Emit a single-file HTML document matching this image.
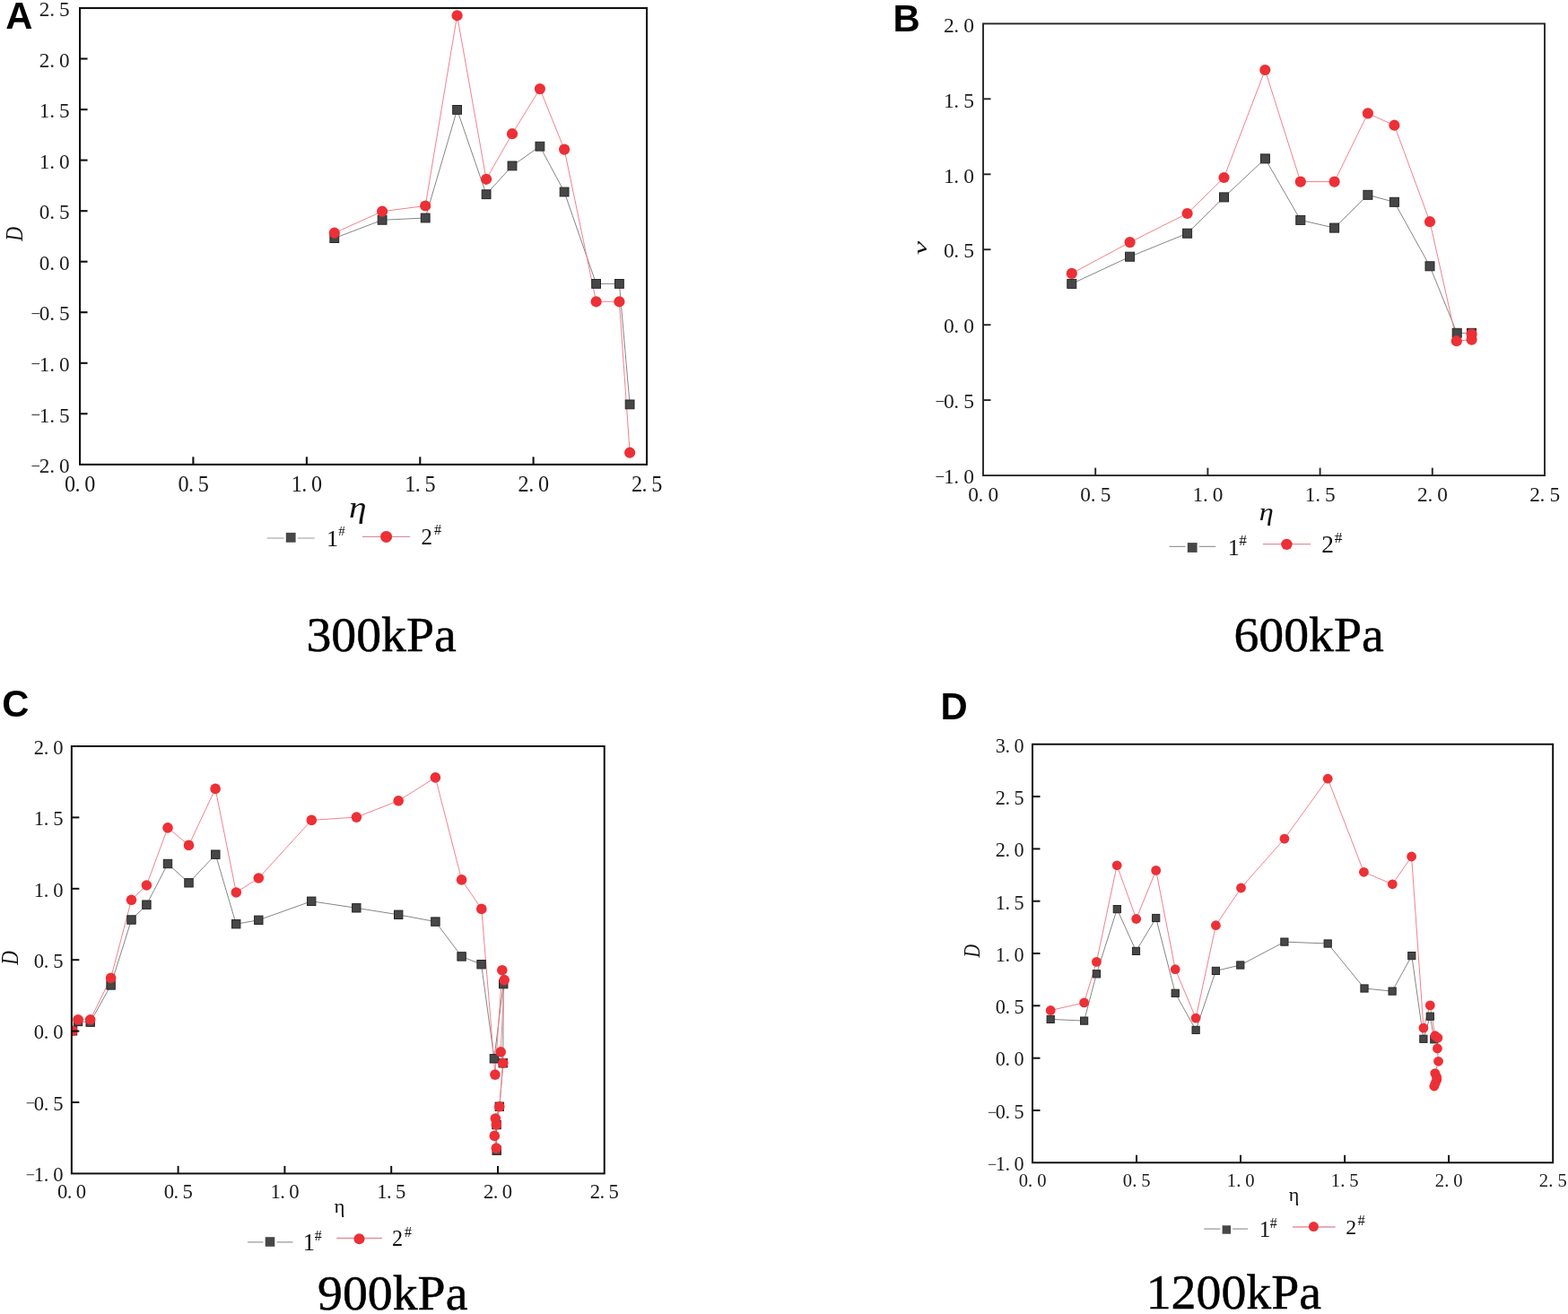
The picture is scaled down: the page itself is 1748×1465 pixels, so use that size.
<!DOCTYPE html><html><head><meta charset="utf-8"><title>D vs eta at 300, 600, 900, 1200 kPa</title>
<style>html,body{margin:0;padding:0;background:#fff;overflow:hidden;}svg{display:block;}</style></head><body>
<svg width="1748" height="1465" viewBox="0 0 1748 1465">
<rect width="1748" height="1465" fill="#fff"/>
<clipPath id="c89"><rect x="89.05" y="9.0" width="632.00" height="508.85"/></clipPath>
<g clip-path="url(#c89)">
<polyline points="372.8,265.6 426.1,245.3 474.2,243.0 509.6,122.4 542.1,216.7 571.0,184.9 601.9,163.2 629.1,214.0 664.6,316.4 690.4,316.4 702.1,450.9" fill="none" stroke="#858585" stroke-width="1.0" stroke-linejoin="round"/>
<polyline points="372.8,259.7 426.1,235.7 474.2,229.5 509.6,17.3 542.1,199.8 571.0,149.2 601.9,99.1 629.1,166.6 664.6,336.3 690.4,336.3 702.1,504.7" fill="none" stroke="#f3808c" stroke-width="1.0" stroke-linejoin="round"/>
<rect x="367.9" y="260.7" width="9.8" height="9.8" fill="#474747" stroke="#262626" stroke-width="1"/>
<rect x="421.2" y="240.4" width="9.8" height="9.8" fill="#474747" stroke="#262626" stroke-width="1"/>
<rect x="469.3" y="238.1" width="9.8" height="9.8" fill="#474747" stroke="#262626" stroke-width="1"/>
<rect x="504.7" y="117.5" width="9.8" height="9.8" fill="#474747" stroke="#262626" stroke-width="1"/>
<rect x="537.2" y="211.8" width="9.8" height="9.8" fill="#474747" stroke="#262626" stroke-width="1"/>
<rect x="566.1" y="180.0" width="9.8" height="9.8" fill="#474747" stroke="#262626" stroke-width="1"/>
<rect x="597.0" y="158.3" width="9.8" height="9.8" fill="#474747" stroke="#262626" stroke-width="1"/>
<rect x="624.2" y="209.1" width="9.8" height="9.8" fill="#474747" stroke="#262626" stroke-width="1"/>
<rect x="659.7" y="311.5" width="9.8" height="9.8" fill="#474747" stroke="#262626" stroke-width="1"/>
<rect x="685.5" y="311.5" width="9.8" height="9.8" fill="#474747" stroke="#262626" stroke-width="1"/>
<rect x="697.2" y="446.0" width="9.8" height="9.8" fill="#474747" stroke="#262626" stroke-width="1"/>
<circle cx="372.8" cy="259.7" r="6.1" fill="#ec3036"/>
<circle cx="426.1" cy="235.7" r="6.1" fill="#ec3036"/>
<circle cx="474.2" cy="229.5" r="6.1" fill="#ec3036"/>
<circle cx="509.6" cy="17.3" r="6.1" fill="#ec3036"/>
<circle cx="542.1" cy="199.8" r="6.1" fill="#ec3036"/>
<circle cx="571.0" cy="149.2" r="6.1" fill="#ec3036"/>
<circle cx="601.9" cy="99.1" r="6.1" fill="#ec3036"/>
<circle cx="629.1" cy="166.6" r="6.1" fill="#ec3036"/>
<circle cx="664.6" cy="336.3" r="6.1" fill="#ec3036"/>
<circle cx="690.4" cy="336.3" r="6.1" fill="#ec3036"/>
<circle cx="702.1" cy="504.7" r="6.1" fill="#ec3036"/>
</g>
<rect x="89.05" y="9.0" width="632.0" height="508.9" fill="none" stroke="#111" stroke-width="2.1"/>
<line x1="89.05" y1="461.3" x2="97.55" y2="461.3" stroke="#111" stroke-width="2.1"/>
<line x1="89.05" y1="404.8" x2="97.55" y2="404.8" stroke="#111" stroke-width="2.1"/>
<line x1="89.05" y1="348.2" x2="97.55" y2="348.2" stroke="#111" stroke-width="2.1"/>
<line x1="89.05" y1="291.7" x2="97.55" y2="291.7" stroke="#111" stroke-width="2.1"/>
<line x1="89.05" y1="235.2" x2="97.55" y2="235.2" stroke="#111" stroke-width="2.1"/>
<line x1="89.05" y1="178.6" x2="97.55" y2="178.6" stroke="#111" stroke-width="2.1"/>
<line x1="89.05" y1="122.1" x2="97.55" y2="122.1" stroke="#111" stroke-width="2.1"/>
<line x1="89.05" y1="65.5" x2="97.55" y2="65.5" stroke="#111" stroke-width="2.1"/>
<line x1="215.4" y1="517.85" x2="215.4" y2="509.35" stroke="#111" stroke-width="2.1"/>
<line x1="341.9" y1="517.85" x2="341.9" y2="509.35" stroke="#111" stroke-width="2.1"/>
<line x1="468.3" y1="517.85" x2="468.3" y2="509.35" stroke="#111" stroke-width="2.1"/>
<line x1="594.6" y1="517.85" x2="594.6" y2="509.35" stroke="#111" stroke-width="2.1"/>
<text font-size="23.2" text-anchor="middle" fill="#1a1a1a" font-family="'Liberation Serif', 'Noto Serif CJK SC', serif"><tspan x="39.70" y="525.53" font-size="18.6">−</tspan><tspan x="49.60 58.10 71.90" y="527.06">2.0</tspan></text>
<text font-size="23.2" text-anchor="middle" fill="#1a1a1a" font-family="'Liberation Serif', 'Noto Serif CJK SC', serif"><tspan x="39.70" y="468.99" font-size="18.6">−</tspan><tspan x="49.60 58.10 71.90" y="470.52">1.5</tspan></text>
<text font-size="23.2" text-anchor="middle" fill="#1a1a1a" font-family="'Liberation Serif', 'Noto Serif CJK SC', serif"><tspan x="39.70" y="412.45" font-size="18.6">−</tspan><tspan x="49.60 58.10 71.90" y="413.98">1.0</tspan></text>
<text font-size="23.2" text-anchor="middle" fill="#1a1a1a" font-family="'Liberation Serif', 'Noto Serif CJK SC', serif"><tspan x="39.70" y="355.91" font-size="18.6">−</tspan><tspan x="49.60 58.10 71.90" y="357.44">0.5</tspan></text>
<text font-size="23.2" text-anchor="middle" fill="#1a1a1a" font-family="'Liberation Serif', 'Noto Serif CJK SC', serif"><tspan x="49.60 58.10 71.90" y="300.90">0.0</tspan></text>
<text font-size="23.2" text-anchor="middle" fill="#1a1a1a" font-family="'Liberation Serif', 'Noto Serif CJK SC', serif"><tspan x="49.60 58.10 71.90" y="244.36">0.5</tspan></text>
<text font-size="23.2" text-anchor="middle" fill="#1a1a1a" font-family="'Liberation Serif', 'Noto Serif CJK SC', serif"><tspan x="49.60 58.10 71.90" y="187.82">1.0</tspan></text>
<text font-size="23.2" text-anchor="middle" fill="#1a1a1a" font-family="'Liberation Serif', 'Noto Serif CJK SC', serif"><tspan x="49.60 58.10 71.90" y="131.28">1.5</tspan></text>
<text font-size="23.2" text-anchor="middle" fill="#1a1a1a" font-family="'Liberation Serif', 'Noto Serif CJK SC', serif"><tspan x="49.60 58.10 71.90" y="74.74">2.0</tspan></text>
<text font-size="23.2" text-anchor="middle" fill="#1a1a1a" font-family="'Liberation Serif', 'Noto Serif CJK SC', serif"><tspan x="49.60 58.10 71.90" y="18.20">2.5</tspan></text>
<text font-size="24.2" text-anchor="middle" fill="#1a1a1a" font-family="'Liberation Serif', 'Noto Serif CJK SC', serif"><tspan x="78.05 86.55 100.35" y="547.85">0.0</tspan></text>
<text font-size="24.2" text-anchor="middle" fill="#1a1a1a" font-family="'Liberation Serif', 'Noto Serif CJK SC', serif"><tspan x="204.45 212.95 226.75" y="547.85">0.5</tspan></text>
<text font-size="24.2" text-anchor="middle" fill="#1a1a1a" font-family="'Liberation Serif', 'Noto Serif CJK SC', serif"><tspan x="330.85 339.35 353.15" y="547.85">1.0</tspan></text>
<text font-size="24.2" text-anchor="middle" fill="#1a1a1a" font-family="'Liberation Serif', 'Noto Serif CJK SC', serif"><tspan x="457.25 465.75 479.55" y="547.85">1.5</tspan></text>
<text font-size="24.2" text-anchor="middle" fill="#1a1a1a" font-family="'Liberation Serif', 'Noto Serif CJK SC', serif"><tspan x="583.65 592.15 605.95" y="547.85">2.0</tspan></text>
<text font-size="24.2" text-anchor="middle" fill="#1a1a1a" font-family="'Liberation Serif', 'Noto Serif CJK SC', serif"><tspan x="710.05 718.55 732.35" y="547.85">2.5</tspan></text>
<clipPath id="c1096"><rect x="1096.0" y="26.4" width="626.00" height="503.70"/></clipPath>
<g clip-path="url(#c1096)">
<polyline points="1194.8,316.4 1259.6,286.2 1323.6,260.2 1364.5,219.9 1410.4,176.9 1449.8,245.4 1487.6,254.1 1524.9,217.3 1554.4,225.3 1594.0,296.8 1624.2,371.3 1640.5,371.3" fill="none" stroke="#858585" stroke-width="1.0" stroke-linejoin="round"/>
<polyline points="1194.8,304.9 1259.6,270.1 1323.6,238.0 1364.5,198.0 1410.3,78.0 1449.8,202.6 1487.6,202.6 1524.9,126.4 1554.4,139.7 1594.0,247.2 1623.8,380.2 1640.6,378.7 1640.6,372.5" fill="none" stroke="#f3808c" stroke-width="1.0" stroke-linejoin="round"/>
<rect x="1189.8" y="311.4" width="10.0" height="10.0" fill="#474747" stroke="#262626" stroke-width="1"/>
<rect x="1254.6" y="281.2" width="10.0" height="10.0" fill="#474747" stroke="#262626" stroke-width="1"/>
<rect x="1318.6" y="255.2" width="10.0" height="10.0" fill="#474747" stroke="#262626" stroke-width="1"/>
<rect x="1359.5" y="214.9" width="10.0" height="10.0" fill="#474747" stroke="#262626" stroke-width="1"/>
<rect x="1405.4" y="171.9" width="10.0" height="10.0" fill="#474747" stroke="#262626" stroke-width="1"/>
<rect x="1444.8" y="240.4" width="10.0" height="10.0" fill="#474747" stroke="#262626" stroke-width="1"/>
<rect x="1482.6" y="249.1" width="10.0" height="10.0" fill="#474747" stroke="#262626" stroke-width="1"/>
<rect x="1519.9" y="212.3" width="10.0" height="10.0" fill="#474747" stroke="#262626" stroke-width="1"/>
<rect x="1549.4" y="220.3" width="10.0" height="10.0" fill="#474747" stroke="#262626" stroke-width="1"/>
<rect x="1589.0" y="291.8" width="10.0" height="10.0" fill="#474747" stroke="#262626" stroke-width="1"/>
<rect x="1619.2" y="366.3" width="10.0" height="10.0" fill="#474747" stroke="#262626" stroke-width="1"/>
<rect x="1635.5" y="366.3" width="10.0" height="10.0" fill="#474747" stroke="#262626" stroke-width="1"/>
<circle cx="1194.8" cy="304.9" r="6.1" fill="#ec3036"/>
<circle cx="1259.6" cy="270.1" r="6.1" fill="#ec3036"/>
<circle cx="1323.6" cy="238.0" r="6.1" fill="#ec3036"/>
<circle cx="1364.5" cy="198.0" r="6.1" fill="#ec3036"/>
<circle cx="1410.3" cy="78.0" r="6.1" fill="#ec3036"/>
<circle cx="1449.8" cy="202.6" r="6.1" fill="#ec3036"/>
<circle cx="1487.6" cy="202.6" r="6.1" fill="#ec3036"/>
<circle cx="1524.9" cy="126.4" r="6.1" fill="#ec3036"/>
<circle cx="1554.4" cy="139.7" r="6.1" fill="#ec3036"/>
<circle cx="1594.0" cy="247.2" r="6.1" fill="#ec3036"/>
<circle cx="1623.8" cy="380.2" r="6.1" fill="#ec3036"/>
<circle cx="1640.6" cy="378.7" r="6.1" fill="#ec3036"/>
<circle cx="1640.6" cy="372.5" r="6.1" fill="#ec3036"/>
</g>
<rect x="1096.0" y="26.4" width="626.0" height="503.7" fill="none" stroke="#262626" stroke-width="1.9"/>
<line x1="1096.0" y1="446.1" x2="1104.5" y2="446.1" stroke="#262626" stroke-width="1.9"/>
<line x1="1096.0" y1="362.2" x2="1104.5" y2="362.2" stroke="#262626" stroke-width="1.9"/>
<line x1="1096.0" y1="278.2" x2="1104.5" y2="278.2" stroke="#262626" stroke-width="1.9"/>
<line x1="1096.0" y1="194.3" x2="1104.5" y2="194.3" stroke="#262626" stroke-width="1.9"/>
<line x1="1096.0" y1="110.3" x2="1104.5" y2="110.3" stroke="#262626" stroke-width="1.9"/>
<line x1="1221.2" y1="530.1" x2="1221.2" y2="521.6" stroke="#262626" stroke-width="1.9"/>
<line x1="1346.4" y1="530.1" x2="1346.4" y2="521.6" stroke="#262626" stroke-width="1.9"/>
<line x1="1471.6" y1="530.1" x2="1471.6" y2="521.6" stroke="#262626" stroke-width="1.9"/>
<line x1="1596.8" y1="530.1" x2="1596.8" y2="521.6" stroke="#262626" stroke-width="1.9"/>
<text font-size="23.5" text-anchor="middle" fill="#1a1a1a" font-family="'Liberation Serif', 'Noto Serif CJK SC', serif"><tspan x="1047.90" y="537.85" font-size="18.8">−</tspan><tspan x="1057.80 1066.30 1080.10" y="539.30">1.0</tspan></text>
<text font-size="23.5" text-anchor="middle" fill="#1a1a1a" font-family="'Liberation Serif', 'Noto Serif CJK SC', serif"><tspan x="1047.90" y="453.90" font-size="18.8">−</tspan><tspan x="1057.80 1066.30 1080.10" y="455.35">0.5</tspan></text>
<text font-size="23.5" text-anchor="middle" fill="#1a1a1a" font-family="'Liberation Serif', 'Noto Serif CJK SC', serif"><tspan x="1057.80 1066.30 1080.10" y="371.40">0.0</tspan></text>
<text font-size="23.5" text-anchor="middle" fill="#1a1a1a" font-family="'Liberation Serif', 'Noto Serif CJK SC', serif"><tspan x="1057.80 1066.30 1080.10" y="287.45">0.5</tspan></text>
<text font-size="23.5" text-anchor="middle" fill="#1a1a1a" font-family="'Liberation Serif', 'Noto Serif CJK SC', serif"><tspan x="1057.80 1066.30 1080.10" y="203.50">1.0</tspan></text>
<text font-size="23.5" text-anchor="middle" fill="#1a1a1a" font-family="'Liberation Serif', 'Noto Serif CJK SC', serif"><tspan x="1057.80 1066.30 1080.10" y="119.55">1.5</tspan></text>
<text font-size="23.5" text-anchor="middle" fill="#1a1a1a" font-family="'Liberation Serif', 'Noto Serif CJK SC', serif"><tspan x="1057.80 1066.30 1080.10" y="35.60">2.0</tspan></text>
<text font-size="23.3" text-anchor="middle" fill="#1a1a1a" font-family="'Liberation Serif', 'Noto Serif CJK SC', serif"><tspan x="1085.00 1093.50 1107.30" y="559.40">0.0</tspan></text>
<text font-size="23.3" text-anchor="middle" fill="#1a1a1a" font-family="'Liberation Serif', 'Noto Serif CJK SC', serif"><tspan x="1210.20 1218.70 1232.50" y="559.40">0.5</tspan></text>
<text font-size="23.3" text-anchor="middle" fill="#1a1a1a" font-family="'Liberation Serif', 'Noto Serif CJK SC', serif"><tspan x="1335.40 1343.90 1357.70" y="559.40">1.0</tspan></text>
<text font-size="23.3" text-anchor="middle" fill="#1a1a1a" font-family="'Liberation Serif', 'Noto Serif CJK SC', serif"><tspan x="1460.60 1469.10 1482.90" y="559.40">1.5</tspan></text>
<text font-size="23.3" text-anchor="middle" fill="#1a1a1a" font-family="'Liberation Serif', 'Noto Serif CJK SC', serif"><tspan x="1585.80 1594.30 1608.10" y="559.40">2.0</tspan></text>
<text font-size="23.3" text-anchor="middle" fill="#1a1a1a" font-family="'Liberation Serif', 'Noto Serif CJK SC', serif"><tspan x="1711.00 1719.50 1733.30" y="559.40">2.5</tspan></text>
<clipPath id="c79"><rect x="79.84" y="832.0" width="593.89" height="476.40"/></clipPath>
<g clip-path="url(#c79)">
<polyline points="81.0,1149.3 87.0,1138.9 100.7,1139.6 123.6,1098.4 146.5,1025.5 163.4,1008.7 187.0,963.0 210.5,984.3 240.3,952.7 263.2,1030.2 288.3,1025.8 347.2,1004.8 397.3,1012.3 444.2,1019.8 485.4,1027.6 514.6,1066.4 536.6,1075.2 550.9,1180.3 561.2,1097.1 560.8,1185.2 556.8,1233.8 553.5,1254.0 553.7,1282.7" fill="none" stroke="#858585" stroke-width="1.0" stroke-linejoin="round"/>
<polyline points="81.0,1149.3 87.0,1136.8 100.7,1136.8 123.6,1090.4 146.5,1003.3 163.4,987.0 187.0,922.9 210.5,942.4 240.1,879.4 263.3,995.0 288.3,979.0 347.3,914.4 397.4,911.1 444.2,892.8 485.4,866.9 514.6,980.9 536.8,1013.4 551.9,1198.1 559.8,1081.7 562.2,1092.6 558.2,1172.8 560.8,1185.2 556.8,1233.8 552.3,1247.0 553.3,1254.0 551.3,1266.4 553.3,1280.1" fill="none" stroke="#f3808c" stroke-width="1.0" stroke-linejoin="round"/>
<rect x="76.3" y="1144.6" width="9.4" height="9.4" fill="#474747" stroke="#262626" stroke-width="1"/>
<rect x="82.3" y="1134.2" width="9.4" height="9.4" fill="#474747" stroke="#262626" stroke-width="1"/>
<rect x="96.0" y="1134.9" width="9.4" height="9.4" fill="#474747" stroke="#262626" stroke-width="1"/>
<rect x="118.9" y="1093.7" width="9.4" height="9.4" fill="#474747" stroke="#262626" stroke-width="1"/>
<rect x="141.8" y="1020.8" width="9.4" height="9.4" fill="#474747" stroke="#262626" stroke-width="1"/>
<rect x="158.7" y="1004.0" width="9.4" height="9.4" fill="#474747" stroke="#262626" stroke-width="1"/>
<rect x="182.3" y="958.3" width="9.4" height="9.4" fill="#474747" stroke="#262626" stroke-width="1"/>
<rect x="205.8" y="979.6" width="9.4" height="9.4" fill="#474747" stroke="#262626" stroke-width="1"/>
<rect x="235.6" y="948.0" width="9.4" height="9.4" fill="#474747" stroke="#262626" stroke-width="1"/>
<rect x="258.5" y="1025.5" width="9.4" height="9.4" fill="#474747" stroke="#262626" stroke-width="1"/>
<rect x="283.6" y="1021.1" width="9.4" height="9.4" fill="#474747" stroke="#262626" stroke-width="1"/>
<rect x="342.5" y="1000.1" width="9.4" height="9.4" fill="#474747" stroke="#262626" stroke-width="1"/>
<rect x="392.6" y="1007.6" width="9.4" height="9.4" fill="#474747" stroke="#262626" stroke-width="1"/>
<rect x="439.5" y="1015.1" width="9.4" height="9.4" fill="#474747" stroke="#262626" stroke-width="1"/>
<rect x="480.7" y="1022.9" width="9.4" height="9.4" fill="#474747" stroke="#262626" stroke-width="1"/>
<rect x="509.9" y="1061.7" width="9.4" height="9.4" fill="#474747" stroke="#262626" stroke-width="1"/>
<rect x="531.9" y="1070.5" width="9.4" height="9.4" fill="#474747" stroke="#262626" stroke-width="1"/>
<rect x="546.2" y="1175.6" width="9.4" height="9.4" fill="#474747" stroke="#262626" stroke-width="1"/>
<rect x="556.5" y="1092.4" width="9.4" height="9.4" fill="#474747" stroke="#262626" stroke-width="1"/>
<rect x="556.1" y="1180.5" width="9.4" height="9.4" fill="#474747" stroke="#262626" stroke-width="1"/>
<rect x="552.1" y="1229.1" width="9.4" height="9.4" fill="#474747" stroke="#262626" stroke-width="1"/>
<rect x="548.8" y="1249.3" width="9.4" height="9.4" fill="#474747" stroke="#262626" stroke-width="1"/>
<rect x="549.0" y="1278.0" width="9.4" height="9.4" fill="#474747" stroke="#262626" stroke-width="1"/>
<circle cx="81.0" cy="1149.3" r="5.8" fill="#ec3036"/>
<circle cx="87.0" cy="1136.8" r="5.8" fill="#ec3036"/>
<circle cx="100.7" cy="1136.8" r="5.8" fill="#ec3036"/>
<circle cx="123.6" cy="1090.4" r="5.8" fill="#ec3036"/>
<circle cx="146.5" cy="1003.3" r="5.8" fill="#ec3036"/>
<circle cx="163.4" cy="987.0" r="5.8" fill="#ec3036"/>
<circle cx="187.0" cy="922.9" r="5.8" fill="#ec3036"/>
<circle cx="210.5" cy="942.4" r="5.8" fill="#ec3036"/>
<circle cx="240.1" cy="879.4" r="5.8" fill="#ec3036"/>
<circle cx="263.3" cy="995.0" r="5.8" fill="#ec3036"/>
<circle cx="288.3" cy="979.0" r="5.8" fill="#ec3036"/>
<circle cx="347.3" cy="914.4" r="5.8" fill="#ec3036"/>
<circle cx="397.4" cy="911.1" r="5.8" fill="#ec3036"/>
<circle cx="444.2" cy="892.8" r="5.8" fill="#ec3036"/>
<circle cx="485.4" cy="866.9" r="5.8" fill="#ec3036"/>
<circle cx="514.6" cy="980.9" r="5.8" fill="#ec3036"/>
<circle cx="536.8" cy="1013.4" r="5.8" fill="#ec3036"/>
<circle cx="551.9" cy="1198.1" r="5.8" fill="#ec3036"/>
<circle cx="559.8" cy="1081.7" r="5.8" fill="#ec3036"/>
<circle cx="562.2" cy="1092.6" r="5.8" fill="#ec3036"/>
<circle cx="558.2" cy="1172.8" r="5.8" fill="#ec3036"/>
<circle cx="560.8" cy="1185.2" r="5.8" fill="#ec3036"/>
<circle cx="556.8" cy="1233.8" r="5.8" fill="#ec3036"/>
<circle cx="552.3" cy="1247.0" r="5.8" fill="#ec3036"/>
<circle cx="553.3" cy="1254.0" r="5.8" fill="#ec3036"/>
<circle cx="551.3" cy="1266.4" r="5.8" fill="#ec3036"/>
<circle cx="553.3" cy="1280.1" r="5.8" fill="#ec3036"/>
</g>
<rect x="79.84" y="832.0" width="593.9" height="476.4" fill="none" stroke="#111" stroke-width="2.0"/>
<line x1="79.84" y1="1229.0" x2="88.34" y2="1229.0" stroke="#111" stroke-width="2.0"/>
<line x1="79.84" y1="1149.6" x2="88.34" y2="1149.6" stroke="#111" stroke-width="2.0"/>
<line x1="79.84" y1="1070.2" x2="88.34" y2="1070.2" stroke="#111" stroke-width="2.0"/>
<line x1="79.84" y1="990.8" x2="88.34" y2="990.8" stroke="#111" stroke-width="2.0"/>
<line x1="79.84" y1="911.4" x2="88.34" y2="911.4" stroke="#111" stroke-width="2.0"/>
<line x1="198.6" y1="1308.4" x2="198.6" y2="1299.9" stroke="#111" stroke-width="2.0"/>
<line x1="317.4" y1="1308.4" x2="317.4" y2="1299.9" stroke="#111" stroke-width="2.0"/>
<line x1="436.2" y1="1308.4" x2="436.2" y2="1299.9" stroke="#111" stroke-width="2.0"/>
<line x1="555.0" y1="1308.4" x2="555.0" y2="1299.9" stroke="#111" stroke-width="2.0"/>
<text font-size="22.6" text-anchor="middle" fill="#1a1a1a" font-family="'Liberation Serif', 'Noto Serif CJK SC', serif"><tspan x="33.86" y="1315.72" font-size="18.1">−</tspan><tspan x="43.37 51.53 64.78" y="1317.10">1.0</tspan></text>
<text font-size="22.6" text-anchor="middle" fill="#1a1a1a" font-family="'Liberation Serif', 'Noto Serif CJK SC', serif"><tspan x="33.86" y="1236.32" font-size="18.1">−</tspan><tspan x="43.37 51.53 64.78" y="1237.70">0.5</tspan></text>
<text font-size="22.6" text-anchor="middle" fill="#1a1a1a" font-family="'Liberation Serif', 'Noto Serif CJK SC', serif"><tspan x="43.37 51.53 64.78" y="1158.30">0.0</tspan></text>
<text font-size="22.6" text-anchor="middle" fill="#1a1a1a" font-family="'Liberation Serif', 'Noto Serif CJK SC', serif"><tspan x="43.37 51.53 64.78" y="1078.90">0.5</tspan></text>
<text font-size="22.6" text-anchor="middle" fill="#1a1a1a" font-family="'Liberation Serif', 'Noto Serif CJK SC', serif"><tspan x="43.37 51.53 64.78" y="999.50">1.0</tspan></text>
<text font-size="22.6" text-anchor="middle" fill="#1a1a1a" font-family="'Liberation Serif', 'Noto Serif CJK SC', serif"><tspan x="43.37 51.53 64.78" y="920.10">1.5</tspan></text>
<text font-size="22.6" text-anchor="middle" fill="#1a1a1a" font-family="'Liberation Serif', 'Noto Serif CJK SC', serif"><tspan x="43.37 51.53 64.78" y="840.70">2.0</tspan></text>
<text font-size="22.7" text-anchor="middle" fill="#1a1a1a" font-family="'Liberation Serif', 'Noto Serif CJK SC', serif"><tspan x="69.61 77.52 90.35" y="1336.20">0.0</tspan></text>
<text font-size="22.7" text-anchor="middle" fill="#1a1a1a" font-family="'Liberation Serif', 'Noto Serif CJK SC', serif"><tspan x="188.39 196.30 209.13" y="1336.20">0.5</tspan></text>
<text font-size="22.7" text-anchor="middle" fill="#1a1a1a" font-family="'Liberation Serif', 'Noto Serif CJK SC', serif"><tspan x="307.17 315.07 327.91" y="1336.20">1.0</tspan></text>
<text font-size="22.7" text-anchor="middle" fill="#1a1a1a" font-family="'Liberation Serif', 'Noto Serif CJK SC', serif"><tspan x="425.95 433.86 446.69" y="1336.20">1.5</tspan></text>
<text font-size="22.7" text-anchor="middle" fill="#1a1a1a" font-family="'Liberation Serif', 'Noto Serif CJK SC', serif"><tspan x="544.73 552.63 565.47" y="1336.20">2.0</tspan></text>
<text font-size="22.7" text-anchor="middle" fill="#1a1a1a" font-family="'Liberation Serif', 'Noto Serif CJK SC', serif"><tspan x="663.51 671.41 684.25" y="1336.20">2.5</tspan></text>
<clipPath id="c1150"><rect x="1150.98" y="829.76" width="580.15" height="466.54"/></clipPath>
<g clip-path="url(#c1150)">
<polyline points="1171.2,1136.4 1208.6,1138.1 1222.4,1085.8 1245.3,1013.6 1266.5,1060.4 1288.7,1023.5 1310.2,1107.3 1333.1,1148.4 1355.4,1082.4 1382.8,1076.0 1431.9,1050.1 1480.2,1052.0 1521.0,1102.0 1552.1,1105.1 1573.8,1065.6 1586.9,1158.3 1594.3,1133.2 1598.8,1158.8" fill="none" stroke="#858585" stroke-width="1.0" stroke-linejoin="round"/>
<polyline points="1171.2,1126.5 1208.6,1117.9 1222.4,1072.4 1245.2,964.8 1266.7,1024.5 1288.7,970.4 1310.2,1080.7 1333.1,1135.1 1355.4,1031.7 1383.5,990.0 1431.9,935.1 1480.2,868.2 1520.4,972.3 1552.3,985.8 1573.6,955.0 1586.9,1146.1 1594.3,1120.9 1599.8,1154.7 1602.9,1157.1 1602.4,1169.0 1603.5,1183.3 1599.8,1196.6 1601.5,1200.5 1601.8,1203.8 1600.2,1207.5 1598.8,1211.0" fill="none" stroke="#f3808c" stroke-width="1.0" stroke-linejoin="round"/>
<rect x="1167.1" y="1132.3" width="8.2" height="8.2" fill="#474747" stroke="#262626" stroke-width="1"/>
<rect x="1204.5" y="1134.0" width="8.2" height="8.2" fill="#474747" stroke="#262626" stroke-width="1"/>
<rect x="1218.3" y="1081.7" width="8.2" height="8.2" fill="#474747" stroke="#262626" stroke-width="1"/>
<rect x="1241.2" y="1009.5" width="8.2" height="8.2" fill="#474747" stroke="#262626" stroke-width="1"/>
<rect x="1262.4" y="1056.3" width="8.2" height="8.2" fill="#474747" stroke="#262626" stroke-width="1"/>
<rect x="1284.6" y="1019.4" width="8.2" height="8.2" fill="#474747" stroke="#262626" stroke-width="1"/>
<rect x="1306.1" y="1103.2" width="8.2" height="8.2" fill="#474747" stroke="#262626" stroke-width="1"/>
<rect x="1329.0" y="1144.3" width="8.2" height="8.2" fill="#474747" stroke="#262626" stroke-width="1"/>
<rect x="1351.3" y="1078.3" width="8.2" height="8.2" fill="#474747" stroke="#262626" stroke-width="1"/>
<rect x="1378.7" y="1071.9" width="8.2" height="8.2" fill="#474747" stroke="#262626" stroke-width="1"/>
<rect x="1427.8" y="1046.0" width="8.2" height="8.2" fill="#474747" stroke="#262626" stroke-width="1"/>
<rect x="1476.1" y="1047.9" width="8.2" height="8.2" fill="#474747" stroke="#262626" stroke-width="1"/>
<rect x="1516.9" y="1097.9" width="8.2" height="8.2" fill="#474747" stroke="#262626" stroke-width="1"/>
<rect x="1548.0" y="1101.0" width="8.2" height="8.2" fill="#474747" stroke="#262626" stroke-width="1"/>
<rect x="1569.7" y="1061.5" width="8.2" height="8.2" fill="#474747" stroke="#262626" stroke-width="1"/>
<rect x="1582.8" y="1154.2" width="8.2" height="8.2" fill="#474747" stroke="#262626" stroke-width="1"/>
<rect x="1590.2" y="1129.1" width="8.2" height="8.2" fill="#474747" stroke="#262626" stroke-width="1"/>
<rect x="1594.7" y="1154.7" width="8.2" height="8.2" fill="#474747" stroke="#262626" stroke-width="1"/>
<circle cx="1171.2" cy="1126.5" r="5.4" fill="#ec3036"/>
<circle cx="1208.6" cy="1117.9" r="5.4" fill="#ec3036"/>
<circle cx="1222.4" cy="1072.4" r="5.4" fill="#ec3036"/>
<circle cx="1245.2" cy="964.8" r="5.4" fill="#ec3036"/>
<circle cx="1266.7" cy="1024.5" r="5.4" fill="#ec3036"/>
<circle cx="1288.7" cy="970.4" r="5.4" fill="#ec3036"/>
<circle cx="1310.2" cy="1080.7" r="5.4" fill="#ec3036"/>
<circle cx="1333.1" cy="1135.1" r="5.4" fill="#ec3036"/>
<circle cx="1355.4" cy="1031.7" r="5.4" fill="#ec3036"/>
<circle cx="1383.5" cy="990.0" r="5.4" fill="#ec3036"/>
<circle cx="1431.9" cy="935.1" r="5.4" fill="#ec3036"/>
<circle cx="1480.2" cy="868.2" r="5.4" fill="#ec3036"/>
<circle cx="1520.4" cy="972.3" r="5.4" fill="#ec3036"/>
<circle cx="1552.3" cy="985.8" r="5.4" fill="#ec3036"/>
<circle cx="1573.6" cy="955.0" r="5.4" fill="#ec3036"/>
<circle cx="1586.9" cy="1146.1" r="5.4" fill="#ec3036"/>
<circle cx="1594.3" cy="1120.9" r="5.4" fill="#ec3036"/>
<circle cx="1599.8" cy="1154.7" r="5.4" fill="#ec3036"/>
<circle cx="1602.9" cy="1157.1" r="5.4" fill="#ec3036"/>
<circle cx="1602.4" cy="1169.0" r="5.4" fill="#ec3036"/>
<circle cx="1603.5" cy="1183.3" r="5.4" fill="#ec3036"/>
<circle cx="1599.8" cy="1196.6" r="5.4" fill="#ec3036"/>
<circle cx="1601.5" cy="1200.5" r="5.4" fill="#ec3036"/>
<circle cx="1601.8" cy="1203.8" r="5.4" fill="#ec3036"/>
<circle cx="1600.2" cy="1207.5" r="5.4" fill="#ec3036"/>
<circle cx="1598.8" cy="1211.0" r="5.4" fill="#ec3036"/>
</g>
<rect x="1150.98" y="829.76" width="580.2" height="466.5" fill="none" stroke="#111" stroke-width="2.0"/>
<line x1="1150.98" y1="1238.0" x2="1159.48" y2="1238.0" stroke="#111" stroke-width="2.0"/>
<line x1="1150.98" y1="1179.7" x2="1159.48" y2="1179.7" stroke="#111" stroke-width="2.0"/>
<line x1="1150.98" y1="1121.3" x2="1159.48" y2="1121.3" stroke="#111" stroke-width="2.0"/>
<line x1="1150.98" y1="1063.0" x2="1159.48" y2="1063.0" stroke="#111" stroke-width="2.0"/>
<line x1="1150.98" y1="1004.7" x2="1159.48" y2="1004.7" stroke="#111" stroke-width="2.0"/>
<line x1="1150.98" y1="946.4" x2="1159.48" y2="946.4" stroke="#111" stroke-width="2.0"/>
<line x1="1150.98" y1="888.1" x2="1159.48" y2="888.1" stroke="#111" stroke-width="2.0"/>
<line x1="1267.0" y1="1296.3" x2="1267.0" y2="1287.8" stroke="#111" stroke-width="2.0"/>
<line x1="1383.0" y1="1296.3" x2="1383.0" y2="1287.8" stroke="#111" stroke-width="2.0"/>
<line x1="1499.1" y1="1296.3" x2="1499.1" y2="1287.8" stroke="#111" stroke-width="2.0"/>
<line x1="1615.1" y1="1296.3" x2="1615.1" y2="1287.8" stroke="#111" stroke-width="2.0"/>
<text font-size="22.2" text-anchor="middle" fill="#1a1a1a" font-family="'Liberation Serif', 'Noto Serif CJK SC', serif"><tspan x="1106.06" y="1303.84" font-size="17.8">−</tspan><tspan x="1115.27 1123.17 1136.01" y="1305.10">1.0</tspan></text>
<text font-size="22.2" text-anchor="middle" fill="#1a1a1a" font-family="'Liberation Serif', 'Noto Serif CJK SC', serif"><tspan x="1106.06" y="1245.52" font-size="17.8">−</tspan><tspan x="1115.27 1123.17 1136.01" y="1246.78">0.5</tspan></text>
<text font-size="22.2" text-anchor="middle" fill="#1a1a1a" font-family="'Liberation Serif', 'Noto Serif CJK SC', serif"><tspan x="1115.27 1123.17 1136.01" y="1188.46">0.0</tspan></text>
<text font-size="22.2" text-anchor="middle" fill="#1a1a1a" font-family="'Liberation Serif', 'Noto Serif CJK SC', serif"><tspan x="1115.27 1123.17 1136.01" y="1130.14">0.5</tspan></text>
<text font-size="22.2" text-anchor="middle" fill="#1a1a1a" font-family="'Liberation Serif', 'Noto Serif CJK SC', serif"><tspan x="1115.27 1123.17 1136.01" y="1071.82">1.0</tspan></text>
<text font-size="22.2" text-anchor="middle" fill="#1a1a1a" font-family="'Liberation Serif', 'Noto Serif CJK SC', serif"><tspan x="1115.27 1123.17 1136.01" y="1013.50">1.5</tspan></text>
<text font-size="22.2" text-anchor="middle" fill="#1a1a1a" font-family="'Liberation Serif', 'Noto Serif CJK SC', serif"><tspan x="1115.27 1123.17 1136.01" y="955.18">2.0</tspan></text>
<text font-size="22.2" text-anchor="middle" fill="#1a1a1a" font-family="'Liberation Serif', 'Noto Serif CJK SC', serif"><tspan x="1115.27 1123.17 1136.01" y="896.86">2.5</tspan></text>
<text font-size="22.2" text-anchor="middle" fill="#1a1a1a" font-family="'Liberation Serif', 'Noto Serif CJK SC', serif"><tspan x="1115.27 1123.17 1136.01" y="838.54">3.0</tspan></text>
<text font-size="20.6" text-anchor="middle" fill="#1a1a1a" font-family="'Liberation Serif', 'Noto Serif CJK SC', serif"><tspan x="1140.86 1148.68 1161.38" y="1322.70">0.0</tspan></text>
<text font-size="20.6" text-anchor="middle" fill="#1a1a1a" font-family="'Liberation Serif', 'Noto Serif CJK SC', serif"><tspan x="1256.89 1264.71 1277.41" y="1322.70">0.5</tspan></text>
<text font-size="20.6" text-anchor="middle" fill="#1a1a1a" font-family="'Liberation Serif', 'Noto Serif CJK SC', serif"><tspan x="1372.92 1380.74 1393.44" y="1322.70">1.0</tspan></text>
<text font-size="20.6" text-anchor="middle" fill="#1a1a1a" font-family="'Liberation Serif', 'Noto Serif CJK SC', serif"><tspan x="1488.95 1496.77 1509.47" y="1322.70">1.5</tspan></text>
<text font-size="20.6" text-anchor="middle" fill="#1a1a1a" font-family="'Liberation Serif', 'Noto Serif CJK SC', serif"><tspan x="1604.98 1612.80 1625.50" y="1322.70">2.0</tspan></text>
<text font-size="20.6" text-anchor="middle" fill="#1a1a1a" font-family="'Liberation Serif', 'Noto Serif CJK SC', serif"><tspan x="1721.01 1728.83 1741.53" y="1322.70">2.5</tspan></text>
<text x="6.25" y="31.6" font-size="41.8" font-weight="bold" fill="#000" font-family="'Liberation Sans', Arial, sans-serif">A</text>
<text x="995.40" y="34.8" font-size="41.8" font-weight="bold" fill="#000" font-family="'Liberation Sans', Arial, sans-serif">B</text>
<text x="2.34" y="799.2" font-size="41.8" font-weight="bold" fill="#000" font-family="'Liberation Sans', Arial, sans-serif">C</text>
<text x="1048.40" y="801.6" font-size="41.8" font-weight="bold" fill="#000" font-family="'Liberation Sans', Arial, sans-serif">D</text>
<text transform="translate(25.17,268.66) rotate(-90) scale(0.782,1.013)" x="0" y="0" font-size="28" font-style="italic" fill="#111" font-family="'Liberation Serif', 'Noto Serif CJK SC', serif">D</text>
<text transform="translate(1033.00,284.19) rotate(-90) scale(1.589,1.000)" x="0" y="0" font-size="22" font-style="italic" fill="#111" font-family="'Liberation Serif', 'Noto Serif CJK SC', serif">ν</text>
<text transform="translate(20.47,1075.76) rotate(-90) scale(0.772,0.975)" x="0" y="0" font-size="28" font-style="italic" fill="#111" font-family="'Liberation Serif', 'Noto Serif CJK SC', serif">D</text>
<text transform="translate(1091.88,1067.58) rotate(-90) scale(0.717,0.877)" x="0" y="0" font-size="28" font-style="italic" fill="#111" font-family="'Liberation Serif', 'Noto Serif CJK SC', serif">D</text>
<text transform="translate(388.98,577.37) scale(1.157,1)" x="0" y="0" font-size="34.11" font-style="italic" fill="#111" font-family="'Liberation Serif', 'Noto Serif CJK SC', serif">η</text>
<text transform="translate(1403.74,579.76) scale(1.173,1)" x="0" y="0" font-size="27.53" font-style="italic" fill="#111" font-family="'Liberation Serif', 'Noto Serif CJK SC', serif">η</text>
<text transform="translate(372.53,1352.33) scale(1.087,1)" x="0" y="0" font-size="21.08" fill="#111" font-family="'Liberation Serif', 'Noto Serif CJK SC', serif">η</text>
<text transform="translate(1436.85,1339.34) scale(1.003,1)" x="0" y="0" font-size="21.96" fill="#111" font-family="'Liberation Serif', 'Noto Serif CJK SC', serif">η</text>
<path d="M297.7 600H316.6M331.8 600H350.6" stroke="#9a9a9a" stroke-width="1.2" fill="none"/>
<rect x="318.8" y="593.9" width="10.8" height="10.8" fill="#474747"/>
<line x1="403.9" y1="598.4" x2="457.2" y2="598.4" stroke="#e0909a" stroke-width="1.4"/>
<circle cx="430.6" cy="598.4" r="6.5" fill="#ec3036"/>
<text x="364.10" y="608.60" font-size="26.2" fill="#111" font-family="'Liberation Serif', 'Noto Serif CJK SC', serif">1</text>
<text x="469.60" y="607.10" font-size="25.0" fill="#111" font-family="'Liberation Serif', 'Noto Serif CJK SC', serif">2</text>
<text x="377.33" y="597.40" font-size="15.0" fill="#111" font-family="'Liberation Serif', 'Noto Serif CJK SC', serif">#</text>
<text x="484.01" y="595.80" font-size="16.1" fill="#111" font-family="'Liberation Serif', 'Noto Serif CJK SC', serif">#</text>
<path d="M1303.5 609.3H1321.6M1336.8 609.3H1355.3" stroke="#9a9a9a" stroke-width="1.2" fill="none"/>
<rect x="1323.8" y="605.1" width="10.8" height="10.8" fill="#474747"/>
<line x1="1407.9" y1="606.6" x2="1461.2" y2="606.6" stroke="#e0909a" stroke-width="1.4"/>
<circle cx="1434.4" cy="606.9" r="6.2" fill="#ec3036"/>
<text x="1368.80" y="619.40" font-size="26.2" fill="#111" font-family="'Liberation Serif', 'Noto Serif CJK SC', serif">1</text>
<text x="1473.20" y="616.40" font-size="27.4" fill="#111" font-family="'Liberation Serif', 'Noto Serif CJK SC', serif">2</text>
<text x="1381.29" y="608.10" font-size="17.3" fill="#111" font-family="'Liberation Serif', 'Noto Serif CJK SC', serif">#</text>
<text x="1487.69" y="605.10" font-size="17.3" fill="#111" font-family="'Liberation Serif', 'Noto Serif CJK SC', serif">#</text>
<path d="M276 1384.9H293.5M308.5 1384.9H326.5" stroke="#9a9a9a" stroke-width="1.2" fill="none"/>
<rect x="295.7" y="1379.2" width="10.6" height="10.6" fill="#474747"/>
<line x1="375.3" y1="1380.5" x2="425.8" y2="1380.5" stroke="#e0909a" stroke-width="1.4"/>
<circle cx="400.5" cy="1381.3" r="6.0" fill="#ec3036"/>
<text x="337.76" y="1393.70" font-size="26.6" fill="#111" font-family="'Liberation Serif', 'Noto Serif CJK SC', serif">1</text>
<text x="437.03" y="1388.90" font-size="24.2" fill="#111" font-family="'Liberation Serif', 'Noto Serif CJK SC', serif">2</text>
<text x="350.71" y="1383.30" font-size="15.9" fill="#111" font-family="'Liberation Serif', 'Noto Serif CJK SC', serif">#</text>
<text x="451.11" y="1379.30" font-size="15.9" fill="#111" font-family="'Liberation Serif', 'Noto Serif CJK SC', serif">#</text>
<path d="M1342.2 1370.2H1360.4M1374.2 1370.2H1391.1" stroke="#9a9a9a" stroke-width="1.2" fill="none"/>
<rect x="1362.6" y="1366.3" width="9.4" height="9.4" fill="#474747"/>
<line x1="1440.9" y1="1368" x2="1488.6" y2="1368" stroke="#e0909a" stroke-width="1.4"/>
<circle cx="1464.4" cy="1367.6" r="5.5" fill="#ec3036"/>
<text x="1403.79" y="1379.30" font-size="25.1" fill="#111" font-family="'Liberation Serif', 'Noto Serif CJK SC', serif">1</text>
<text x="1500.35" y="1375.50" font-size="23.9" fill="#111" font-family="'Liberation Serif', 'Noto Serif CJK SC', serif">2</text>
<text x="1415.71" y="1368.80" font-size="15.9" fill="#111" font-family="'Liberation Serif', 'Noto Serif CJK SC', serif">#</text>
<text x="1513.60" y="1366.40" font-size="16.5" fill="#111" font-family="'Liberation Serif', 'Noto Serif CJK SC', serif">#</text>
<text x="341.42" y="725.5" font-size="55.8" fill="#000" stroke="#000" stroke-width="0.5" font-family="'Liberation Serif', 'Noto Serif CJK SC', serif">300kPa</text>
<text x="1375.40" y="725.5" font-size="55.8" fill="#000" stroke="#000" stroke-width="0.5" font-family="'Liberation Serif', 'Noto Serif CJK SC', serif">600kPa</text>
<text x="354.01" y="1459.7" font-size="55.8" fill="#000" stroke="#000" stroke-width="0.5" font-family="'Liberation Serif', 'Noto Serif CJK SC', serif">900kPa</text>
<text x="1277.69" y="1459.3" font-size="55.8" fill="#000" stroke="#000" stroke-width="0.5" font-family="'Liberation Serif', 'Noto Serif CJK SC', serif">1200kPa</text>
</svg></body></html>
